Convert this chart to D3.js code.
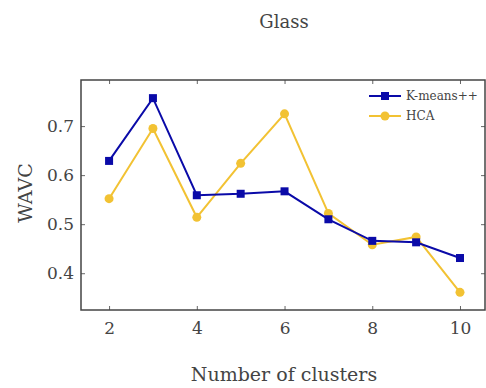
<!DOCTYPE html>
<html>
<head>
<meta charset="utf-8">
<script src="https://cdn.jsdelivr.net/npm/d3@7"></script>
<style>
  body { margin: 0; background: #fff; }
  text { font-family: "DejaVu Serif", serif; fill: #444; }
</style>
</head>
<body>
<div id="chart"></div>
<script>
// chart data
var clusters = [2, 3, 4, 5, 6, 7, 8, 9, 10];
var kmeans = [0.629, 0.757, 0.559, 0.562, 0.567, 0.510, 0.466, 0.463, 0.431];
var hca = [0.552, 0.695, 0.514, 0.624, 0.725, 0.522, 0.458, 0.474, 0.361];
var xTicks = [2, 4, 6, 8, 10];
var yTicks = [0.4, 0.5, 0.6, 0.7];

var svgWidth = 486;
var svgHeight = 388;

var margin = { top: 80, right: 1, bottom: 78, left: 81 };
var width = svgWidth - margin.left - margin.right;
var height = svgHeight - margin.top - margin.bottom;

var svg = d3.select("#chart")
  .append("svg")
  .attr("width", svgWidth)
  .attr("height", svgHeight);

var chartGroup = svg.append("g")
  .attr("transform", `translate(${margin.left}, ${margin.top})`);

var xScale = d3.scaleLinear()
  .domain([1.36, 10.57])
  .range([0, width]);

var yScale = d3.scaleLinear()
  .domain([0.325, 0.794])
  .range([height, 0]);

// axes, ticks pointing inward
var axisColor = "#444";

var bottomAxis = chartGroup.append("g")
  .attr("transform", `translate(0, ${height})`)
  .call(d3.axisBottom(xScale).tickValues(xTicks).tickSizeInner(-4).tickSizeOuter(0).tickPadding(12));

var topAxis = chartGroup.append("g")
  .call(d3.axisTop(xScale).tickValues(xTicks).tickSizeInner(-4).tickSizeOuter(0).tickFormat(""));

var leftAxis = chartGroup.append("g")
  .call(d3.axisLeft(yScale).tickValues(yTicks).tickSizeInner(-4).tickSizeOuter(0).tickPadding(7).tickFormat(d3.format(".1f")));

var rightAxis = chartGroup.append("g")
  .attr("transform", `translate(${width}, 0)`)
  .call(d3.axisRight(yScale).tickValues(yTicks).tickSizeInner(-4).tickSizeOuter(0).tickFormat(""));

[bottomAxis, topAxis, leftAxis, rightAxis].forEach(function(ax) {
  ax.select(".domain").remove();
  ax.selectAll(".tick line").attr("stroke", "#666").attr("stroke-width", 1);
  ax.selectAll(".tick text").attr("fill", "#444").style("font-size", "17px");
});

// frame
chartGroup.append("rect")
  .attr("x", 0)
  .attr("y", 0)
  .attr("width", width)
  .attr("height", height)
  .attr("fill", "none")
  .attr("stroke", axisColor)
  .attr("stroke-width", 1.5);

var series = [
  { name: "K-means++", values: kmeans, color: "#0a0aa8", marker: "square" },
  { name: "HCA", values: hca, color: "#f2c233", marker: "circle" }
];

var line = d3.line()
  .x(d => xScale(d.x))
  .y(d => yScale(d.y));

// draw HCA first so K-means sits on top in the plot
series.slice().reverse().forEach(function(s) {
  var pts = clusters.map((c, i) => ({ x: c, y: s.values[i] }));

  chartGroup.append("path")
    .datum(pts)
    .attr("fill", "none")
    .attr("stroke", s.color)
    .attr("stroke-width", 2)
    .attr("d", line);

  if (s.marker == "square") {
    chartGroup.selectAll(null)
      .data(pts)
      .enter()
      .append("rect")
      .attr("x", d => xScale(d.x) - 4)
      .attr("y", d => yScale(d.y) - 4)
      .attr("width", 8)
      .attr("height", 8)
      .attr("fill", s.color);
  } else {
    chartGroup.selectAll(null)
      .data(pts)
      .enter()
      .append("circle")
      .attr("cx", d => xScale(d.x))
      .attr("cy", d => yScale(d.y))
      .attr("r", 4.5)
      .attr("fill", s.color);
  }
});

// legend
var legend = svg.append("g")
  .attr("transform", "translate(369, 96)");

series.forEach(function(s, i) {
  var row = legend.append("g").attr("transform", `translate(0, ${i * 20})`);
  row.append("line")
    .attr("x1", 0).attr("x2", 32)
    .attr("y1", 0).attr("y2", 0)
    .attr("stroke", s.color)
    .attr("stroke-width", 2);
  if (s.marker == "square") {
    row.append("rect").attr("x", 12).attr("y", -4).attr("width", 8).attr("height", 8).attr("fill", s.color);
  } else {
    row.append("circle").attr("cx", 16).attr("cy", 0).attr("r", 4.5).attr("fill", s.color);
  }
  row.append("text")
    .attr("x", 37)
    .attr("y", 0)
    .attr("dy", "0.35em")
    .style("font-size", "12px")
    .text(s.name);
});

// title and axis labels
svg.append("text")
  .attr("x", 284)
  .attr("y", 28)
  .attr("text-anchor", "middle")
  .style("font-size", "18px")
  .text("Glass");

svg.append("text")
  .attr("x", 284)
  .attr("y", 381)
  .attr("text-anchor", "middle")
  .style("font-size", "19px")
  .text("Number of clusters");

svg.append("text")
  .attr("transform", "rotate(-90)")
  .attr("x", -193)
  .attr("y", 32)
  .attr("text-anchor", "middle")
  .style("font-size", "19px")
  .text("WAVC");
</script>
</body>
</html>
